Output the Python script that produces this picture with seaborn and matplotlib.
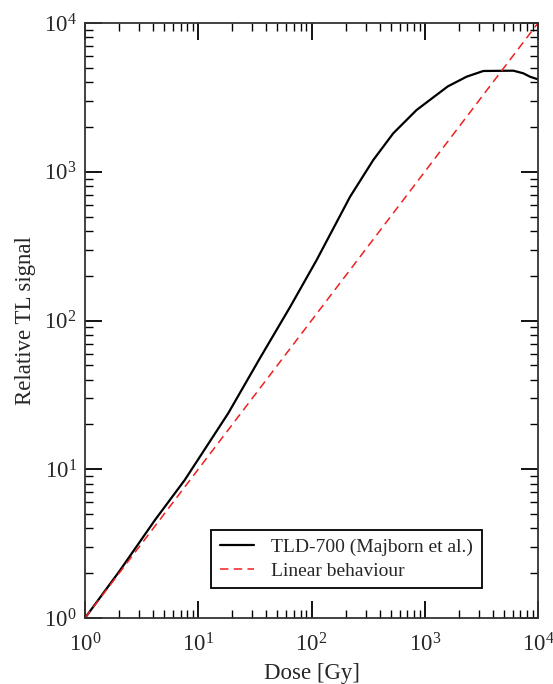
import numpy as np
import pandas as pd
import matplotlib
matplotlib.use("Agg")
import matplotlib.pyplot as plt
import seaborn as sns
from matplotlib.ticker import LogLocator, NullFormatter

# Data
dose = [1, 2.0, 4.15, 7.6, 18.4, 35, 65, 111, 219, 351, 527, 847, 1600, 2344, 3289, 6053, 7418, 8493, 10000]
signal = [1, 2.05, 4.56, 8.47, 23.8, 55.7, 124, 255, 679, 1199, 1813, 2601, 3750, 4357, 4757, 4780, 4590, 4355, 4180]
linear_dose = [1, 10000]
linear_signal = [1, 10000]
series_names = ["TLD-700 (Majborn et al.)", "Linear behaviour"]

sns.set_style("ticks")
plt.rcParams["font.family"] = ["Liberation Serif", "DejaVu Serif"]
plt.rcParams["mathtext.fontset"] = "custom"
plt.rcParams["mathtext.rm"] = "Liberation Serif"
plt.rcParams["mathtext.it"] = "Liberation Serif"
plt.rcParams["mathtext.default"] = "regular"

df = pd.concat([
    pd.DataFrame({"Dose": dose, "Signal": signal, "Series": series_names[0]}),
    pd.DataFrame({"Dose": linear_dose, "Signal": linear_signal, "Series": series_names[1]}),
])

fig = plt.figure(figsize=(5.53, 6.84), dpi=100)
ax = fig.add_axes([85/553, 1-618/684, (538-85)/553, (618-23)/684])

sns.lineplot(data=df[df.Series == series_names[0]], x="Dose", y="Signal", ax=ax,
             color="black", linewidth=1.6, label=series_names[0], estimator=None, sort=False)
sns.lineplot(data=df[df.Series == series_names[1]], x="Dose", y="Signal", ax=ax,
             color="#ee2020", linewidth=1.1, dashes=False, label=series_names[1], estimator=None, sort=False)
ax.lines[1].set_linestyle((0, (5.5, 3.5)))

ax.set_xscale("log")
ax.set_yscale("log")
ax.set_xlim(1, 1e4)
ax.set_ylim(1, 1e4)

for axis in (ax.xaxis, ax.yaxis):
    axis.set_major_locator(LogLocator(base=10, numticks=10))
    axis.set_minor_locator(LogLocator(base=10, subs=np.arange(2, 10), numticks=20))
    axis.set_minor_formatter(NullFormatter())

ax.tick_params(which="both", direction="in", top=True, right=True, color="black")
ax.tick_params(which="major", length=12, width=1.3, labelsize=16.5)
ax.tick_params(axis="x", which="major", pad=11)
ax.tick_params(axis="y", which="major", pad=6)
ax.tick_params(which="minor", length=6, width=1.0)
for s in ax.spines.values():
    s.set_linewidth(1.3)
    s.set_color("#333333")

ax.set_xlabel("Dose [Gy]", fontsize=16.5, labelpad=5)
ax.set_ylabel("Relative TL signal", fontsize=16.5, labelpad=6)

leg = ax.legend(loc="lower right", bbox_to_anchor=(0.876, 0.05), borderaxespad=0,
                fontsize=14, frameon=True, fancybox=False, handlelength=1.75,
                handletextpad=0.9, borderpad=0.45, labelspacing=0.3)
leg.get_frame().set_edgecolor("black")
leg.get_frame().set_linewidth(1.3)
leg.get_frame().set_alpha(1)

fig.savefig("out.png", dpi=100)
